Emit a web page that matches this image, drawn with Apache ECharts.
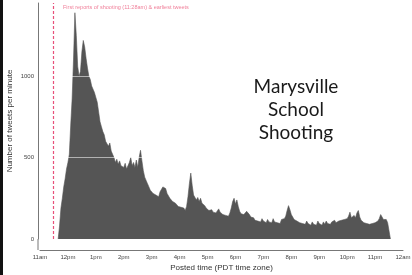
<!DOCTYPE html>
<html>
<head>
<meta charset="utf-8">
<script src="https://cdn.jsdelivr.net/npm/echarts@6/dist/echarts.min.js"></script>
<style>
html,body{margin:0;padding:0;background:#fff;}
#chart{width:412px;height:275px;}
</style>
</head>
<body>
<div id="chart"></div>
<script>
// X tick labels (one per hour from 11am to 12am)
const tickLabels = ['11am','12pm','1pm','2pm','3pm','4pm','5pm','6pm','7pm','8pm','9pm','10pm','11pm','12am'];
// Y tick labels
const yTicks = [0, 500, 1000];
// Series: tweets per minute, sampled every 3 minutes, first sample at 11:39am (minutes after 11am)
const startMinute = 39;
const stepMinutes = 3;
const counts = [
  0,80,190,250,320,370,430,470,520,700,860,1100,1390,1250,1060,1000,1030,1150,1220,1180,1110,1050,1000,980,940,950,900,870,
  840,780,720,690,660,640,600,610,570,590,540,530,500,470,490,460,480,450,460,440,465,430,420,470,500,450,470,440,485,440,500,545,480,420,380,360,340,320,300,310,
  280,290,270,280,260,290,300,320,330,310,280,270,250,255,230,240,220,215,200,210,195,185,190,175,200,260,340,405,330,270,280,240,255,230,250,220,210,205,190,195,
  175,170,180,165,175,160,170,185,165,175,150,160,145,150,140,160,190,230,250,215,240,200,170,155,165,150,160,170,175,150,135,125,130,115,125,110,120,105,125,110,
  115,100,120,105,110,100,125,105,115,100,110,95,120,110,125,140,175,205,180,150,135,120,130,110,120,100,110,95,105,90,110,95,100,85,105,90,100,85,110,95,
  100,85,105,90,110,95,100,90,105,95,115,100,95,110,100,115,105,120,110,125,140,165,130,120,145,130,160,175,135,115,110,100,110,95,100,90,100,95,90,100,
  95,110,125,150,160,120,110,120,100,110,0
];
// Reference (grid) lines drawn over the area
const refLines = [500, 1000];
// Event marker (minutes after 11am)
const eventMinute = 28;
const eventText = 'First reports of shooting (11:28am) & earliest tweets';
const titleLines = ['Marysville', 'School', 'Shooting'];

const seriesData = counts.map((v, i) => [startMinute + i * stepMinutes, v]);

const chart = echarts.init(document.getElementById('chart'), null, {renderer: 'canvas'});
chart.setOption({
  animation: false,
  backgroundColor: '#ffffff',
  grid: {left: 40, right: 9, top: 3, bottom: 36, containLabel: false, outerBoundsMode: 'none'},
  xAxis: {
    type: 'value', min: 0, max: 780, interval: 60, offset: 11,
    axisLine: {show: true, onZero: false, lineStyle: {color: '#777', width: 1}},
    axisTick: {show: false},
    splitLine: {show: false},
    axisLabel: {fontSize: 6, color: '#444', margin: 4, fontFamily: 'Liberation Sans',
      formatter: v => tickLabels[Math.round(v / 60)] || ''},
    name: 'Posted time (PDT time zone)', nameLocation: 'middle', nameGap: 14, nameMoveOverlap: false,
    nameTextStyle: {fontSize: 8, color: '#333', fontFamily: 'Liberation Sans'}
  },
  yAxis: {
    type: 'value', min: 0, max: 1450, interval: 500, offset: 2,
    axisLine: {show: true, onZero: false, lineStyle: {color: '#777', width: 1}},
    axisTick: {show: false},
    splitLine: {show: false},
    axisLabel: {fontSize: 6, color: '#444', margin: 4, fontFamily: 'Liberation Sans',
      formatter: v => yTicks.indexOf(v) >= 0 ? String(v) : ''},
    name: 'Number of tweets per minute', nameLocation: 'middle', nameGap: 24, nameRotate: 90, nameMoveOverlap: false,
    nameTextStyle: {fontSize: 8, color: '#333', fontFamily: 'Liberation Sans'}
  },
  series: [{
    type: 'line',
    data: seriesData,
    showSymbol: false,
    symbol: 'none',
    lineStyle: {color: '#555555', width: 0.6},
    areaStyle: {color: '#555555', opacity: 1},
    markLine: {
      silent: true,
      symbol: ['none', 'none'],
      label: {show: false},
      data: refLines.map(v => ({yAxis: v, lineStyle: {color: 'rgba(255,255,255,0.55)', width: 1, type: 'solid'}}))
        .concat([{xAxis: eventMinute, lineStyle: {color: '#e8507a', width: 1.2, type: [3, 2]}}])
    }
  }],
  graphic: [
    {type: 'rect', shape: {x: 0, y: 0, width: 3, height: 275}, style: {fill: '#111'}},
    {type: 'line', shape: {x1: 38, y1: 239, x2: 38, y2: 250}, style: {stroke: '#777', lineWidth: 1}},
    {type: 'text', style: {text: eventText, x: 63, y: 4, fill: '#f07f99', font: '5.5px "Liberation Sans"'}},
    {type: 'text', style: {text: titleLines.join('\n'), x: 296, y: 75, textAlign: 'center',
      fill: '#1a1a1a', font: '19px Lato', lineHeight: 23}}
  ]
});
</script>
</body>
</html>
